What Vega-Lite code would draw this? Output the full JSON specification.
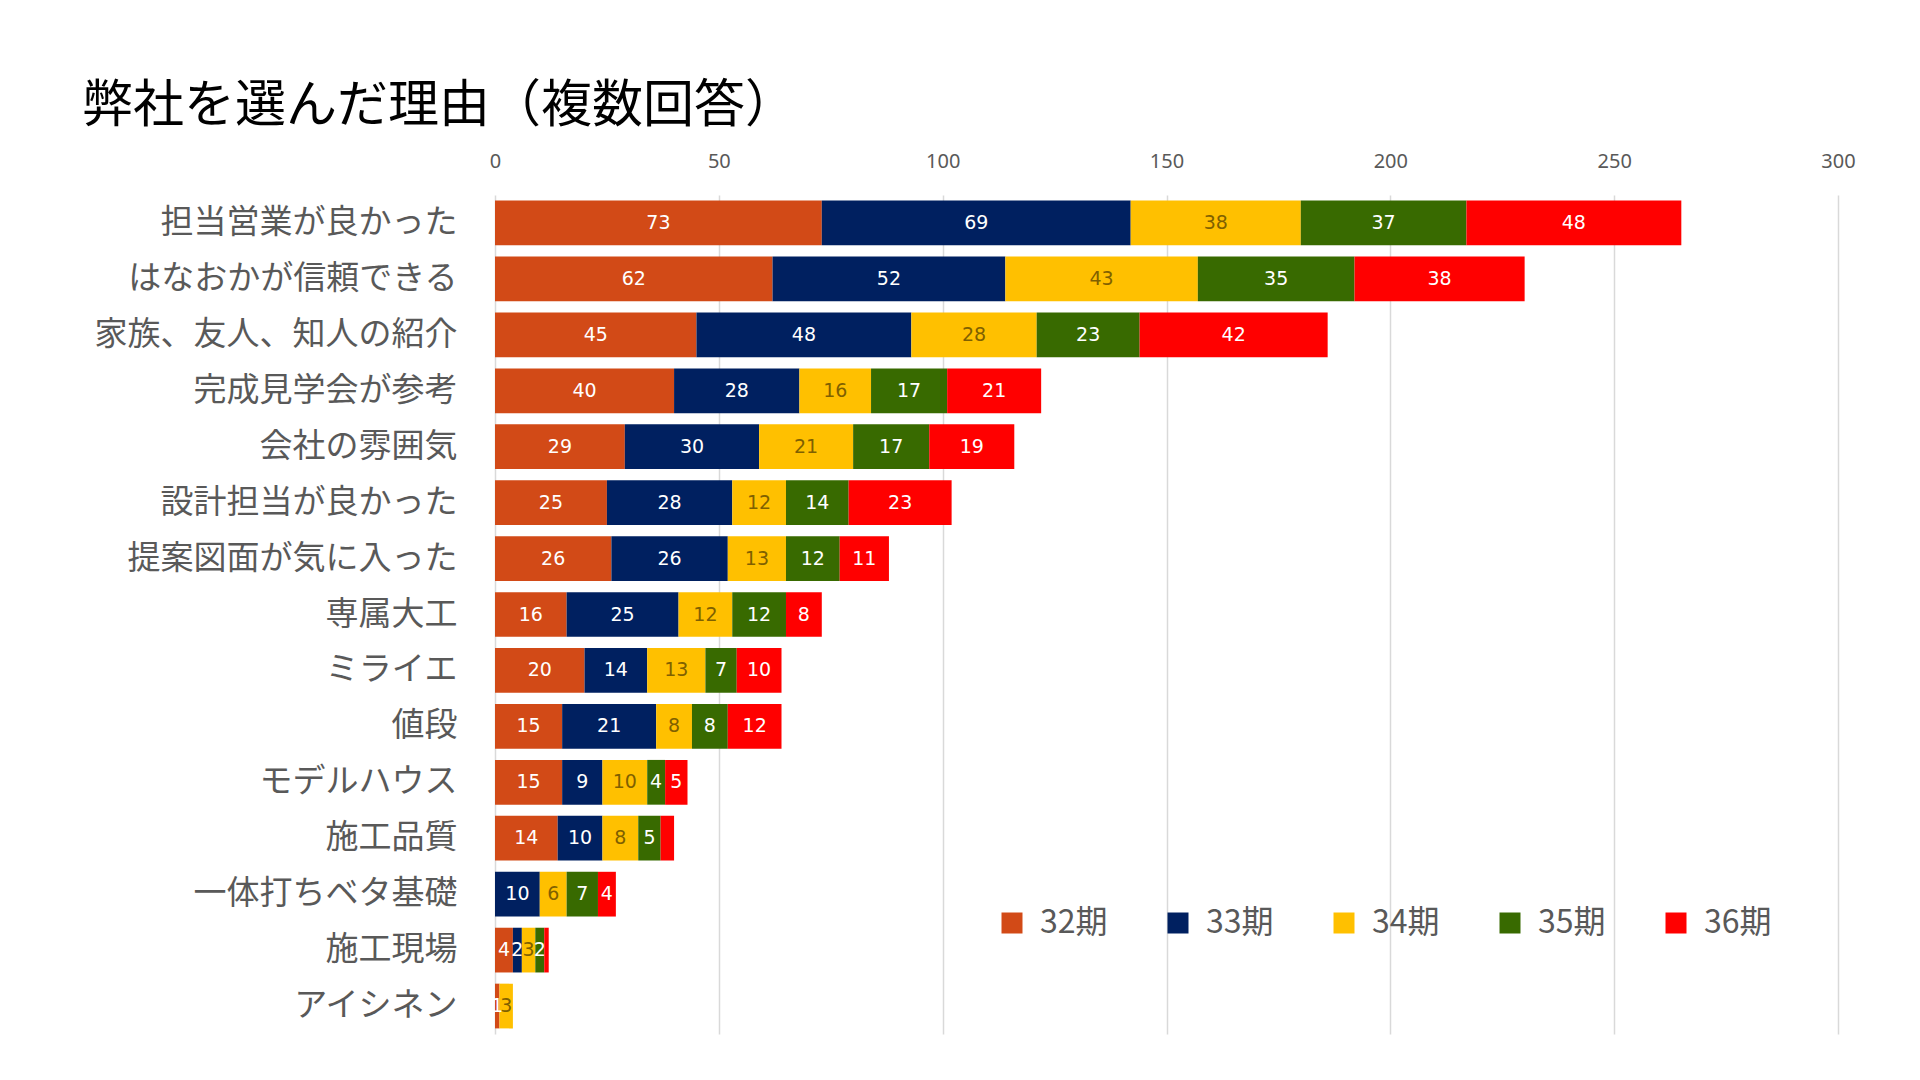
{
  "$schema": "https://vega.github.io/schema/vega-lite/v6.json",
  "autosize": {"type": "none"},
  "width": 1343,
  "height": 839,
  "padding": {"left": 495, "top": 195, "right": 82, "bottom": 46},
  "background": "white",
  "title": {
    "text": "弊社を選んだ理由（複数回答）",
    "font": "Noto Sans CJK JP",
    "fontSize": 51,
    "fontWeight": "normal",
    "color": "#000000",
    "anchor": "start",
    "frame": "group",
    "dx": -413,
    "offset": 18
  },
  "data": {
    "values": [
      {"reason": "担当営業が良かった", "period": "32期", "value": 73},
      {"reason": "担当営業が良かった", "period": "33期", "value": 69},
      {"reason": "担当営業が良かった", "period": "34期", "value": 38},
      {"reason": "担当営業が良かった", "period": "35期", "value": 37},
      {"reason": "担当営業が良かった", "period": "36期", "value": 48},
      {"reason": "はなおかが信頼できる", "period": "32期", "value": 62},
      {"reason": "はなおかが信頼できる", "period": "33期", "value": 52},
      {"reason": "はなおかが信頼できる", "period": "34期", "value": 43},
      {"reason": "はなおかが信頼できる", "period": "35期", "value": 35},
      {"reason": "はなおかが信頼できる", "period": "36期", "value": 38},
      {"reason": "家族、友人、知人の紹介", "period": "32期", "value": 45},
      {"reason": "家族、友人、知人の紹介", "period": "33期", "value": 48},
      {"reason": "家族、友人、知人の紹介", "period": "34期", "value": 28},
      {"reason": "家族、友人、知人の紹介", "period": "35期", "value": 23},
      {"reason": "家族、友人、知人の紹介", "period": "36期", "value": 42},
      {"reason": "完成見学会が参考", "period": "32期", "value": 40},
      {"reason": "完成見学会が参考", "period": "33期", "value": 28},
      {"reason": "完成見学会が参考", "period": "34期", "value": 16},
      {"reason": "完成見学会が参考", "period": "35期", "value": 17},
      {"reason": "完成見学会が参考", "period": "36期", "value": 21},
      {"reason": "会社の雰囲気", "period": "32期", "value": 29},
      {"reason": "会社の雰囲気", "period": "33期", "value": 30},
      {"reason": "会社の雰囲気", "period": "34期", "value": 21},
      {"reason": "会社の雰囲気", "period": "35期", "value": 17},
      {"reason": "会社の雰囲気", "period": "36期", "value": 19},
      {"reason": "設計担当が良かった", "period": "32期", "value": 25},
      {"reason": "設計担当が良かった", "period": "33期", "value": 28},
      {"reason": "設計担当が良かった", "period": "34期", "value": 12},
      {"reason": "設計担当が良かった", "period": "35期", "value": 14},
      {"reason": "設計担当が良かった", "period": "36期", "value": 23},
      {"reason": "提案図面が気に入った", "period": "32期", "value": 26},
      {"reason": "提案図面が気に入った", "period": "33期", "value": 26},
      {"reason": "提案図面が気に入った", "period": "34期", "value": 13},
      {"reason": "提案図面が気に入った", "period": "35期", "value": 12},
      {"reason": "提案図面が気に入った", "period": "36期", "value": 11},
      {"reason": "専属大工", "period": "32期", "value": 16},
      {"reason": "専属大工", "period": "33期", "value": 25},
      {"reason": "専属大工", "period": "34期", "value": 12},
      {"reason": "専属大工", "period": "35期", "value": 12},
      {"reason": "専属大工", "period": "36期", "value": 8},
      {"reason": "ミライエ", "period": "32期", "value": 20},
      {"reason": "ミライエ", "period": "33期", "value": 14},
      {"reason": "ミライエ", "period": "34期", "value": 13},
      {"reason": "ミライエ", "period": "35期", "value": 7},
      {"reason": "ミライエ", "period": "36期", "value": 10},
      {"reason": "値段", "period": "32期", "value": 15},
      {"reason": "値段", "period": "33期", "value": 21},
      {"reason": "値段", "period": "34期", "value": 8},
      {"reason": "値段", "period": "35期", "value": 8},
      {"reason": "値段", "period": "36期", "value": 12},
      {"reason": "モデルハウス", "period": "32期", "value": 15},
      {"reason": "モデルハウス", "period": "33期", "value": 9},
      {"reason": "モデルハウス", "period": "34期", "value": 10},
      {"reason": "モデルハウス", "period": "35期", "value": 4},
      {"reason": "モデルハウス", "period": "36期", "value": 5},
      {"reason": "施工品質", "period": "32期", "value": 14},
      {"reason": "施工品質", "period": "33期", "value": 10},
      {"reason": "施工品質", "period": "34期", "value": 8},
      {"reason": "施工品質", "period": "35期", "value": 5},
      {"reason": "施工品質", "period": "36期", "value": 3},
      {"reason": "一体打ちベタ基礎", "period": "33期", "value": 10},
      {"reason": "一体打ちベタ基礎", "period": "34期", "value": 6},
      {"reason": "一体打ちベタ基礎", "period": "35期", "value": 7},
      {"reason": "一体打ちベタ基礎", "period": "36期", "value": 4},
      {"reason": "施工現場", "period": "32期", "value": 4},
      {"reason": "施工現場", "period": "33期", "value": 2},
      {"reason": "施工現場", "period": "34期", "value": 3},
      {"reason": "施工現場", "period": "35期", "value": 2},
      {"reason": "施工現場", "period": "36期", "value": 1},
      {"reason": "アイシネン", "period": "32期", "value": 1},
      {"reason": "アイシネン", "period": "34期", "value": 3}
    ]
  },
  "transform": [
    {
      "stack": "value",
      "groupby": ["reason"],
      "sort": [{"field": "period", "order": "ascending"}],
      "as": ["v0", "v1"]
    }
  ],
  "encoding": {
    "y": {
      "field": "reason",
      "type": "nominal",
      "sort": ["担当営業が良かった", "はなおかが信頼できる", "家族、友人、知人の紹介", "完成見学会が参考", "会社の雰囲気", "設計担当が良かった", "提案図面が気に入った", "専属大工", "ミライエ", "値段", "モデルハウス", "施工品質", "一体打ちベタ基礎", "施工現場", "アイシネン"],
      "scale": {"paddingInner": 0.2, "paddingOuter": 0.1},
      "title": null,
      "axis": {
        "domain": false,
        "ticks": false,
        "labelFont": "Noto Sans CJK JP",
        "labelFontSize": 33,
        "labelColor": "#595959",
        "labelPadding": 38,
        "labelLimit": 500
      }
    }
  },
  "layer": [
    {
      "mark": {"type": "bar"},
      "encoding": {
        "x": {
          "field": "v0",
          "type": "quantitative",
          "scale": {"domain": [0, 300], "nice": false},
          "title": null,
          "axis": {
            "orient": "top",
            "values": [0, 50, 100, 150, 200, 250, 300],
            "domain": false,
            "ticks": false,
            "grid": true,
            "gridColor": "#D9D9D9",
            "gridWidth": 1.5,
            "labelFont": "Noto Sans",
            "labelFontSize": 20,
            "labelColor": "#595959",
            "labelPadding": 24,
            "labelFlush": false
          }
        },
        "x2": {"field": "v1"},
        "color": {
          "field": "period",
          "type": "nominal",
          "scale": {
            "domain": ["32期", "33期", "34期", "35期", "36期"],
            "range": ["#D24A17", "#002060", "#FFC000", "#386A00", "#FF0000"]
          },
          "legend": {
            "title": null,
            "orient": "none",
            "direction": "horizontal",
            "legendX": 501,
            "legendY": 712,
            "symbolType": "square",
            "symbolSize": 441,
            "symbolStrokeWidth": 0,
            "labelFont": "Noto Sans CJK JP",
            "labelFontSize": 32,
            "labelColor": "#595959",
            "labelOffset": 12,
            "columnPadding": 54
          }
        }
      }
    },
    {
      "transform": [
        {"filter": "!((datum.reason == '施工品質' || datum.reason == '施工現場') && datum.period == '36期')"},
        {"calculate": "(datum.v0 + datum.v1) / 2", "as": "mid"}
      ],
      "mark": {"type": "text", "font": "DejaVu Sans", "fontSize": 19, "baseline": "middle", "align": "center"},
      "encoding": {
        "x": {"field": "mid", "type": "quantitative"},
        "text": {"field": "value", "type": "quantitative"},
        "color": {
          "condition": {"test": "datum.period == '34期'", "value": "#7F6000"},
          "value": "#FFFFFF"
        }
      }
    }
  ],
  "config": {
    "view": {"stroke": null}
  }
}
